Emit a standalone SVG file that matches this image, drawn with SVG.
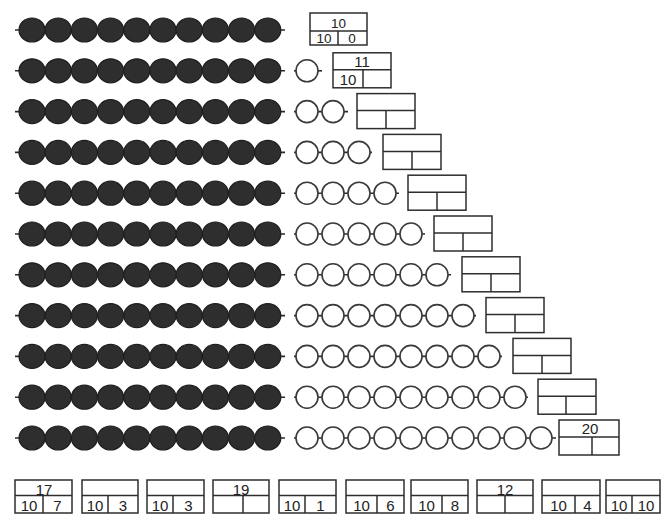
<svg xmlns="http://www.w3.org/2000/svg" xmlns:xlink="http://www.w3.org/1999/xlink" width="661" height="515" viewBox="0 0 661 515">
<style>
.blk{fill:#2e2e2e;stroke:#1e1e1e;stroke-width:1.2}
.wht{fill:#fff;stroke:#3a3a3a;stroke-width:1.6}
.thr{stroke:#2a2a2a;stroke-width:1.6;fill:none}
.box{fill:#fff;stroke:#2e2e2e;stroke-width:1.5}
.ln{stroke:#2e2e2e;stroke-width:1.5;fill:none}
text{font-family:"Liberation Sans",Arial,sans-serif;font-size:15px;fill:#222;text-anchor:middle}
.sm{font-size:13.5px}
</style>
<defs>
<ellipse id="b" rx="13" ry="12" class="blk"/>
<circle id="w" r="11" class="wht"/>
<g id="blackrow">
<use href="#b" x="32"/><use href="#b" x="58.2"/><use href="#b" x="84.4"/><use href="#b" x="110.6"/><use href="#b" x="136.8"/><use href="#b" x="163"/><use href="#b" x="189.2"/><use href="#b" x="215.4"/><use href="#b" x="241.6"/><use href="#b" x="267.8"/>
</g>
</defs>
<rect width="661" height="515" fill="#fff"/>
<g id="connectors">
<line class="thr" x1="15" y1="30" x2="285" y2="30"/>
<line class="thr" x1="15" y1="70.8" x2="285" y2="70.8"/><line class="thr" x1="294" y1="70.8" x2="322" y2="70.8"/>
<line class="thr" x1="15" y1="111.6" x2="285" y2="111.6"/><line class="thr" x1="294" y1="111.6" x2="348" y2="111.6"/>
<line class="thr" x1="15" y1="152.4" x2="285" y2="152.4"/><line class="thr" x1="294" y1="152.4" x2="372" y2="152.4"/>
<line class="thr" x1="15" y1="193.2" x2="285" y2="193.2"/><line class="thr" x1="294" y1="193.2" x2="399" y2="193.2"/>
<line class="thr" x1="15" y1="234" x2="285" y2="234"/><line class="thr" x1="294" y1="234" x2="425" y2="234"/>
<line class="thr" x1="15" y1="274.8" x2="285" y2="274.8"/><line class="thr" x1="294" y1="274.8" x2="451" y2="274.8"/>
<line class="thr" x1="15" y1="315.6" x2="285" y2="315.6"/><line class="thr" x1="294" y1="315.6" x2="476" y2="315.6"/>
<line class="thr" x1="15" y1="356.4" x2="285" y2="356.4"/><line class="thr" x1="294" y1="356.4" x2="502" y2="356.4"/>
<line class="thr" x1="15" y1="397.2" x2="285" y2="397.2"/><line class="thr" x1="294" y1="397.2" x2="528" y2="397.2"/>
<line class="thr" x1="15" y1="438" x2="285" y2="438"/><line class="thr" x1="294" y1="438" x2="556" y2="438"/>
</g>
<g id="row1"><use href="#blackrow" y="30"/></g>
<g id="row2"><use href="#blackrow" y="70.8"/><use href="#w" x="307" y="70.8"/></g>
<g id="row3"><use href="#blackrow" y="111.6"/><use href="#w" x="307" y="111.6"/><use href="#w" x="333" y="111.6"/></g>
<g id="row4"><use href="#blackrow" y="152.4"/><use href="#w" x="307" y="152.4"/><use href="#w" x="333" y="152.4"/><use href="#w" x="359" y="152.4"/></g>
<g id="row5"><use href="#blackrow" y="193.2"/><use href="#w" x="307" y="193.2"/><use href="#w" x="333" y="193.2"/><use href="#w" x="359" y="193.2"/><use href="#w" x="385" y="193.2"/></g>
<g id="row6"><use href="#blackrow" y="234"/><use href="#w" x="307" y="234"/><use href="#w" x="333" y="234"/><use href="#w" x="359" y="234"/><use href="#w" x="385" y="234"/><use href="#w" x="411" y="234"/></g>
<g id="row7"><use href="#blackrow" y="274.8"/><use href="#w" x="307" y="274.8"/><use href="#w" x="333" y="274.8"/><use href="#w" x="359" y="274.8"/><use href="#w" x="385" y="274.8"/><use href="#w" x="411" y="274.8"/><use href="#w" x="437" y="274.8"/></g>
<g id="row8"><use href="#blackrow" y="315.6"/><use href="#w" x="307" y="315.6"/><use href="#w" x="333" y="315.6"/><use href="#w" x="359" y="315.6"/><use href="#w" x="385" y="315.6"/><use href="#w" x="411" y="315.6"/><use href="#w" x="437" y="315.6"/><use href="#w" x="463" y="315.6"/></g>
<g id="row9"><use href="#blackrow" y="356.4"/><use href="#w" x="307" y="356.4"/><use href="#w" x="333" y="356.4"/><use href="#w" x="359" y="356.4"/><use href="#w" x="385" y="356.4"/><use href="#w" x="411" y="356.4"/><use href="#w" x="437" y="356.4"/><use href="#w" x="463" y="356.4"/><use href="#w" x="489" y="356.4"/></g>
<g id="row10"><use href="#blackrow" y="397.2"/><use href="#w" x="307" y="397.2"/><use href="#w" x="333" y="397.2"/><use href="#w" x="359" y="397.2"/><use href="#w" x="385" y="397.2"/><use href="#w" x="411" y="397.2"/><use href="#w" x="437" y="397.2"/><use href="#w" x="463" y="397.2"/><use href="#w" x="489" y="397.2"/><use href="#w" x="515" y="397.2"/></g>
<g id="row11"><use href="#blackrow" y="438"/><use href="#w" x="307" y="438"/><use href="#w" x="333" y="438"/><use href="#w" x="359" y="438"/><use href="#w" x="385" y="438"/><use href="#w" x="411" y="438"/><use href="#w" x="437" y="438"/><use href="#w" x="463" y="438"/><use href="#w" x="489" y="438"/><use href="#w" x="515" y="438"/><use href="#w" x="541" y="438"/></g>

<g id="box1"><rect class="box" x="310" y="13" width="57" height="32"/><path class="ln" d="M310 31H367M338 31V45"/><text class="sm" x="338.5" y="28">10</text><text class="sm" x="324" y="43">10</text><text class="sm" x="352" y="43">0</text></g>
<g id="box2"><rect class="box" x="333" y="52.8" width="58" height="35"/><path class="ln" d="M333 69.8H391M363 69.8V87.8"/><text x="362" y="66.5">11</text><text x="348" y="85">10</text></g>
<g id="box3"><rect class="box" x="357" y="93.6" width="58" height="35"/><path class="ln" d="M357 110.6H415M386 110.6V128.6"/></g>
<g id="box4"><rect class="box" x="383" y="134.4" width="58" height="35"/><path class="ln" d="M383 151.4H441M412 151.4V169.4"/></g>
<g id="box5"><rect class="box" x="408" y="175.2" width="58" height="35"/><path class="ln" d="M408 192.2H466M437 192.2V210.2"/></g>
<g id="box6"><rect class="box" x="434" y="216" width="58" height="35"/><path class="ln" d="M434 233H492M463 233V251"/></g>
<g id="box7"><rect class="box" x="462" y="256.8" width="58" height="35"/><path class="ln" d="M462 273.8H520M491 273.8V291.8"/></g>
<g id="box8"><rect class="box" x="486" y="297.6" width="58" height="35"/><path class="ln" d="M486 314.6H544M515 314.6V332.6"/></g>
<g id="box9"><rect class="box" x="513" y="338.4" width="58" height="35"/><path class="ln" d="M513 355.4H571M542 355.4V373.4"/></g>
<g id="box10"><rect class="box" x="538" y="379.2" width="58" height="35"/><path class="ln" d="M538 396.2H596M566 396.2V414.2"/></g>
<g id="box11"><rect class="box" x="559" y="420" width="60" height="35"/><path class="ln" d="M559 437H619M592 437V455"/><text x="590" y="434">20</text></g>

<g id="bottom1"><rect class="box" x="15" y="480" width="57" height="33"/><path class="ln" d="M15 495.5H72M43 495.5V513"/><text x="44" y="494.5">17</text><text x="29" y="511">10</text><text x="57.5" y="511">7</text></g>
<g id="bottom2"><rect class="box" x="82" y="480" width="56" height="33"/><path class="ln" d="M82 495.5H138M108 495.5V513"/><text x="95" y="511">10</text><text x="123" y="511">3</text></g>
<g id="bottom3"><rect class="box" x="147" y="480" width="57" height="33"/><path class="ln" d="M147 495.5H204M173 495.5V513"/><text x="160" y="511">10</text><text x="188.5" y="511">3</text></g>
<g id="bottom4"><rect class="box" x="213" y="480" width="56" height="33"/><path class="ln" d="M213 495.5H269M243 495.5V513"/><text x="241" y="494.5">19</text></g>
<g id="bottom5"><rect class="box" x="279" y="480" width="57" height="33"/><path class="ln" d="M279 495.5H336M305 495.5V513"/><text x="292" y="511">10</text><text x="320.5" y="511">1</text></g>
<g id="bottom6"><rect class="box" x="346" y="480" width="58" height="33"/><path class="ln" d="M346 495.5H404M377 495.5V513"/><text x="361.5" y="511">10</text><text x="390.5" y="511">6</text></g>
<g id="bottom7"><rect class="box" x="411" y="480" width="57" height="33"/><path class="ln" d="M411 495.5H468M442 495.5V513"/><text x="426.5" y="511">10</text><text x="455" y="511">8</text></g>
<g id="bottom8"><rect class="box" x="477" y="480" width="56" height="33"/><path class="ln" d="M477 495.5H533M505 495.5V513"/><text x="505" y="494.5">12</text></g>
<g id="bottom9"><rect class="box" x="542" y="480" width="58" height="33"/><path class="ln" d="M542 495.5H600M575 495.5V513"/><text x="558.5" y="511">10</text><text x="587.5" y="511">4</text></g>
<g id="bottom10"><rect class="box" x="606" y="480" width="54" height="33"/><path class="ln" d="M606 495.5H660M632 495.5V513"/><text x="619" y="511">10</text><text x="646" y="511">10</text></g>
</svg>
